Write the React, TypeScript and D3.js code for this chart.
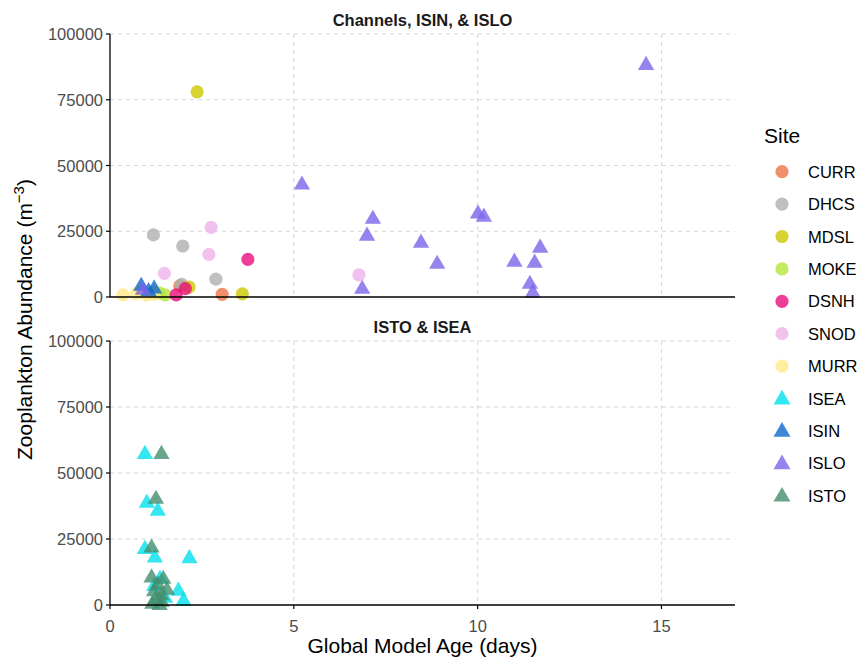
import React from "react";
import * as d3 from "d3";

// ---- data: [Global Model Age (days), Zooplankton Abundance (m^-3)] ----
const CURR: [number, number][] = [[1.9, 4200], [3.05, 1000]];
const DHCS: [number, number][] = [[1.18, 23600], [1.98, 19400], [2.88, 6800], [1.95, 4800]];
const MDSL: [number, number][] = [[2.37, 78000], [2.15, 3800], [3.6, 1200], [1.2, 1800]];
const MOKE: [number, number][] = [[0.85, 2000], [1.35, 1500], [1.5, 800]];
const DSNH: [number, number][] = [[3.75, 14300], [2.05, 3200], [1.8, 800]];
const SNOD: [number, number][] = [[2.75, 26500], [2.69, 16200], [1.48, 9000], [6.77, 8400]];
const MURR: [number, number][] = [[0.35, 800], [0.7, 1200], [1.0, 700], [1.2, 1000]];
const ISIN: [number, number][] = [[0.85, 4500], [1.2, 3500], [1.05, 2500]];
const ISLO: [number, number][] = [
  [14.58, 88500], [5.22, 43000], [10.01, 32000], [10.17, 30800], [7.15, 30000],
  [6.99, 23600], [8.46, 20900], [11.7, 19000], [11.0, 13700], [11.55, 13300],
  [8.9, 12900], [6.86, 3400], [11.42, 5300], [11.5, 1900], [0.9, 3000],
];
const ISEA: [number, number][] = [
  [0.95, 57500], [1.0, 39000], [1.3, 36000], [0.95, 21500], [1.22, 18300],
  [2.16, 18000], [1.36, 10200], [1.2, 7500], [1.86, 5700], [2.0, 1900], [1.5, 3000],
];
const ISTO: [number, number][] = [
  [1.4, 57500], [1.25, 40500], [1.13, 22000], [1.13, 10700], [1.45, 10200],
  [1.3, 8000], [1.2, 5500], [1.4, 4000], [1.25, 2500], [1.4, 1500],
  [1.15, 700], [1.35, 300], [1.55, 6000],
];

const siteNames = ["CURR", "DHCS", "MDSL", "MOKE", "DSNH", "SNOD", "MURR", "ISEA", "ISIN", "ISLO", "ISTO"];
const siteColors = ["#EC7445", "#AFAFAF", "#CCC800", "#B3E63B", "#EA0E7D", "#EFB3EA", "#FFEA88", "#00E0EC", "#0F68CC", "#7C64EA", "#428E6E"];
const siteShapes = ["circle", "circle", "circle", "circle", "circle", "circle", "circle", "triangle", "triangle", "triangle", "triangle"];
const siteData = [CURR, DHCS, MDSL, MOKE, DSNH, SNOD, MURR, ISEA, ISIN, ISLO, ISTO];

const panelTitles = ["Channels, ISIN, & ISLO", "ISTO & ISEA"];
const panelSites = [
  ["CURR", "DHCS", "MDSL", "MOKE", "DSNH", "SNOD", "MURR", "ISIN", "ISLO"],
  ["ISEA", "ISTO"],
];
const xTicks = [0, 5, 10, 15];
const yTicks = [0, 25000, 50000, 75000, 100000];

// ---- layout ----
const W = 860, H = 657;
const X0 = 110, X1 = 735;
const panels = [{ top: 34, bottom: 297 }, { top: 341, bottom: 605 }];
const ALPHA = 0.8;
const FONT = "'Liberation Sans', Arial, sans-serif";
const FS = 16.5;
const FT = 21;

const xScale = d3.scaleLinear().domain([0, 17]).range([X0, X1]);
const triPath = d3.symbol().type(d3.symbolTriangle).size(115)()!;
const triLegend = d3.symbol().type(d3.symbolTriangle).size(125)()!;

function Mark({ shape, color, x, y, legend }: { shape: string; color: string; x: number; y: number; legend?: boolean }) {
  if (shape === "circle") {
    return <circle cx={x} cy={y} r={6.6} fill={color} fillOpacity={ALPHA} />;
  }
  return <path d={legend ? triLegend : triPath} transform={`translate(${x},${y + 1})`} fill={color} fillOpacity={ALPHA} />;
}

export default function App() {
  return (
    <>
      <style>{`body{margin:0}`}</style>
      <svg width={W} height={H} style={{ display: "block", background: "#fff" }} fontFamily={FONT}>
        {panels.map((p, pi) => {
          const yScale = d3.scaleLinear().domain([0, 100000]).range([p.bottom, p.top]);
          return (
            <g key={pi}>
              {/* grid */}
              {yTicks.filter((t) => t > 0).map((t) => (
                <line key={"gy" + t} x1={X0} x2={X1} y1={yScale(t)} y2={yScale(t)} stroke="#D6D6D6" strokeWidth={1} strokeDasharray="4,4" />
              ))}
              {xTicks.filter((t) => t > 0).map((t) => (
                <line key={"gx" + t} x1={xScale(t)} x2={xScale(t)} y1={p.top} y2={p.bottom} stroke="#D6D6D6" strokeWidth={1} strokeDasharray="4,4" />
              ))}
              {/* strip title */}
              <text x={(X0 + X1) / 2} y={p.top - 8} textAnchor="middle" fontSize={FS} fontWeight="bold" fill="#1A1A1A">
                {panelTitles[pi]}
              </text>
              {/* points */}
              {siteNames.map((s, si) =>
                panelSites[pi].includes(s)
                  ? siteData[si].map((d, di) => (
                      <Mark key={s + di} shape={siteShapes[si]} color={siteColors[si]} x={xScale(d[0])} y={yScale(d[1])} />
                    ))
                  : null
              )}
              {/* y axis */}
              <line x1={X0} x2={X0} y1={p.top} y2={p.bottom} stroke="#000" strokeWidth={1.3} />
              {yTicks.map((t) => (
                <g key={"ty" + t}>
                  <line x1={X0 - 4} x2={X0} y1={yScale(t)} y2={yScale(t)} stroke="#000" strokeWidth={1.2} />
                  <text x={X0 - 7} y={yScale(t) + 6} textAnchor="end" fontSize={FS} fill="#4D4D4D">
                    {t}
                  </text>
                </g>
              ))}
              {/* x axis line */}
              <line x1={X0} x2={X1} y1={p.bottom} y2={p.bottom} stroke="#000" strokeWidth={1.3} />
              {pi === 1 &&
                xTicks.map((t) => (
                  <g key={"tx" + t}>
                    <line x1={xScale(t)} x2={xScale(t)} y1={p.bottom} y2={p.bottom + 4} stroke="#000" strokeWidth={1.2} />
                    <text x={xScale(t)} y={p.bottom + 27} textAnchor="middle" fontSize={FS} fill="#4D4D4D">
                      {t}
                    </text>
                  </g>
                ))}
            </g>
          );
        })}
        {/* axis titles */}
        <text x={(X0 + X1) / 2} y={653} textAnchor="middle" fontSize={FT} fill="#000">
          Global Model Age (days)
        </text>
        <text transform={`translate(32,${(panels[0].top + panels[1].bottom) / 2}) rotate(-90)`} textAnchor="middle" fontSize={FT} fill="#000">
          Zooplankton Abundance (m<tspan dy={-8} fontSize={15}>−3</tspan><tspan dy={8}>)</tspan>
        </text>
        {/* legend */}
        <text x={764} y={143} fontSize={FT} fill="#000">Site</text>
        {siteNames.map((s, i) => {
          const cy = 171.7 + i * 32.4;
          return (
            <g key={"lg" + s}>
              <Mark shape={siteShapes[i]} color={siteColors[i]} x={782} y={cy} legend />
              <text x={808} y={cy + 6} fontSize={FS} fill="#000">{s}</text>
            </g>
          );
        })}
      </svg>
    </>
  );
}
